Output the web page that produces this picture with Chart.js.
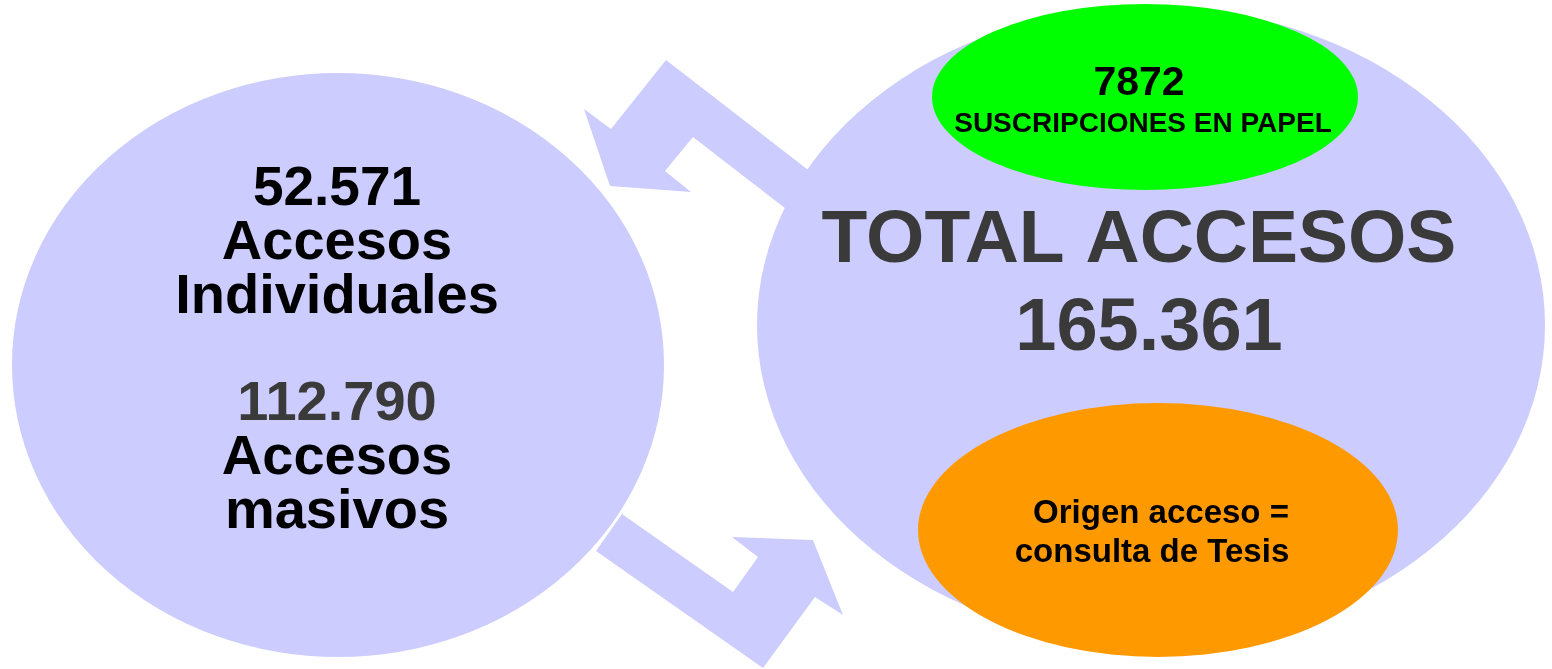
<!DOCTYPE html>
<html>
<head>
<meta charset="utf-8">
<script src="https://cdn.jsdelivr.net/npm/chart.js@4/dist/chart.umd.min.js"></script>
<style>
  html, body { margin: 0; padding: 0; background: #fff; }
  #wrap { width: 1552px; height: 669px; position: relative; }
</style>
</head>
<body>
<div id="wrap"><canvas id="chartCanvas"></canvas></div>
<script>
// Valores del diagrama
const accesosIndividuales = "52.571";
const accesosMasivos = "112.790";
const totalAccesos = "165.361";
const suscripcionesPapel = "7872";

// Flechas (coordenadas en unidades de los ejes)
const arrowUp = [[666, 60], [900, 241], [900, 297], [693, 137], [665, 171], [691, 192], [610, 186], [584, 109], [611, 129], [666, 60]];
const arrowDown = [[622, 514], [733, 592], [758, 557], [732, 537], [813, 540], [843, 615], [815, 597], [763, 668], [596, 551], [622, 514]];

// Elipses: individual/masivo, total, papel, tesis
const ellipseCx = [338, 1151, 1145, 1158];
const ellipseCy = [365, 325, 97, 530];
const ellipseRx = [327, 394, 213, 240];
const ellipseRy = [293, 318, 93, 127];
const ellipseColors = ["#ccccff", "#ccccff", "#00ff00", "#ff9900"];

// Textos
const textLines = [
    accesosIndividuales, "Accesos", "Individuales",
    accesosMasivos, "Accesos", "masivos",
    suscripcionesPapel, "SUSCRIPCIONES EN PAPEL",
    "TOTAL ACCESOS", totalAccesos,
    "Origen acceso =", "consulta de Tesis"
];
const textLayout = [
    {x: 337, y: 205, size: 55, color: "#000"},
    {x: 337, y: 259, size: 56, color: "#000"},
    {x: 337, y: 313, size: 56, color: "#000"},
    {x: 337, y: 420, size: 56, color: "#3a3a3a"},
    {x: 337, y: 474, size: 56, color: "#000"},
    {x: 337, y: 528, size: 56, color: "#000"},
    {x: 1139, y: 95, size: 41, color: "#000"},
    {x: 1143, y: 132, size: 28, color: "#000"},
    {x: 1139, y: 262, size: 75, color: "#3a3a3a"},
    {x: 1149, y: 350, size: 74, color: "#3a3a3a"},
    {x: 1161, y: 523, size: 33, color: "#000"},
    {x: 1152, y: 562, size: 33, color: "#000"}
];

const toPoints = arr => arr.map(p => ({x: p[0], y: p[1]}));

const ellipsePlugin = {
    id: "ellipses",
    afterDatasetsDraw(chart) {
        const ctx = chart.ctx;
        const xs = chart.scales.x;
        const ys = chart.scales.y;
        ctx.save();
        ellipseCx.forEach((cx, i) => {
            const px = xs.getPixelForValue(cx);
            const py = ys.getPixelForValue(ellipseCy[i]);
            const rx = Math.abs(xs.getPixelForValue(cx + ellipseRx[i]) - px);
            const ry = Math.abs(ys.getPixelForValue(ellipseCy[i] + ellipseRy[i]) - py);
            ctx.beginPath();
            ctx.ellipse(px, py, rx, ry, 0, 0, Math.PI * 2);
            ctx.fillStyle = ellipseColors[i];
            ctx.fill();
            if (i === 0) {
                ctx.strokeStyle = "#fff";
                ctx.lineWidth = 2;
                ctx.stroke();
            }
        });
        ctx.textAlign = "center";
        ctx.textBaseline = "alphabetic";
        textLines.forEach((t, i) => {
            const l = textLayout[i];
            ctx.font = "bold " + l.size + "px 'Liberation Sans', Arial, sans-serif";
            ctx.fillStyle = l.color;
            ctx.fillText(t, xs.getPixelForValue(l.x), ys.getPixelForValue(l.y));
        });
        ctx.restore();
    }
};

const ctx = document.getElementById("chartCanvas").getContext("2d");
new Chart(ctx, {
    type: "scatter",
    data: {
        datasets: [
            {
                data: toPoints(arrowUp),
                showLine: true,
                fill: "shape",
                backgroundColor: "#ccccff",
                borderColor: "#ccccff",
                borderWidth: 0,
                pointRadius: 0,
                tension: 0
            },
            {
                data: toPoints(arrowDown),
                showLine: true,
                fill: "shape",
                backgroundColor: "#ccccff",
                borderColor: "#ccccff",
                borderWidth: 0,
                pointRadius: 0,
                tension: 0
            }
        ]
    },
    options: {
        responsive: true,
        maintainAspectRatio: false,
        animation: false,
        events: [],
        layout: { padding: 0 },
        plugins: {
            legend: { display: false },
            tooltip: { enabled: false }
        },
        scales: {
            x: { type: "linear", min: 0, max: 1552, display: false },
            y: { type: "linear", min: 0, max: 669, reverse: true, display: false }
        }
    },
    plugins: [ellipsePlugin]
});
</script>
</body>
</html>
